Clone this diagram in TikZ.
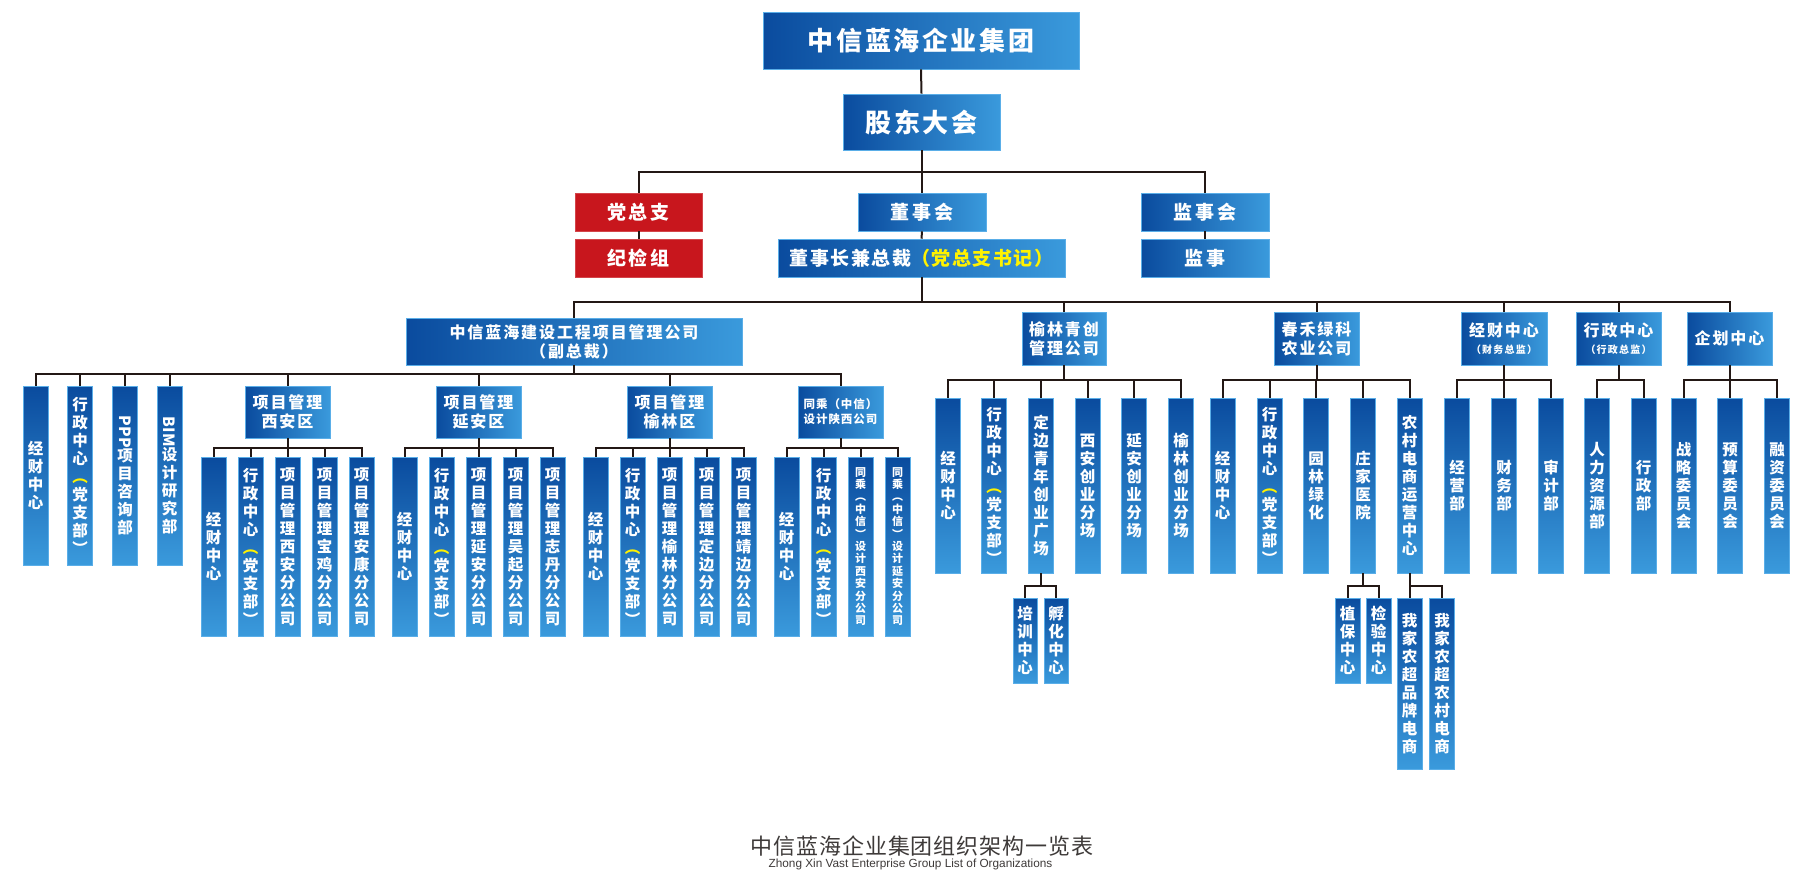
\documentclass[tikz,border=0pt]{standalone}
\usepackage{fontspec}
\usepackage{graphicx}
\setmainfont{Noto Sans CJK SC}
\newfontfamily\engfont{Liberation Sans}

\definecolor{dkblue}{HTML}{0A4B9E}
\definecolor{ltblue}{HTML}{3A9ADC}
\definecolor{edgeblue}{HTML}{5AAEE8}
\definecolor{dkred}{HTML}{C8161D}
\definecolor{hiyellow}{HTML}{FFF200}
\definecolor{linegray}{HTML}{231815}
\definecolor{titlegray}{HTML}{3E3A39}

% one character per line for the tall columns
\makeatletter
\newcommand\stack[1]{\edef\stack@tmp{#1}\expandafter\stack@a\stack@tmp\stack@end}
\def\stack@a#1{#1\@ifnextchar\stack@end{\@gobble}{\\\stack@a}}
\let\stack@end\relax
\makeatother
\newcommand\partycol{\stack{行政中心}\\\color{hiyellow}\stack{︵党支部︶}}
\newcommand\bigfont{\fontsize{26}{28}\selectfont\bfseries\addfontfeatures{LetterSpace=10}}
\newcommand\midfont{\fontsize{19}{22}\selectfont\bfseries\addfontfeatures{LetterSpace=14}}
\newcommand\subfont{\fontsize{16}{19}\selectfont\bfseries\addfontfeatures{LetterSpace=12}}
\newcommand\colfont{\fontsize{15.5}{18}\selectfont\bfseries}

\begin{document}
\begin{tikzpicture}[
    x=1pt, y=-1pt,
    conn/.style={draw=linegray, line width=2pt},
    hbox/.style 2 args={
        rectangle,
        left color=dkblue,
        right color=ltblue,
        draw=edgeblue,
        line width=0.6pt,
        text=white,
        align=center,
        inner sep=0pt,
        minimum width=#1,
        minimum height=#2
    },
    redbox/.style={
        rectangle,
        fill=dkred,
        draw=dkred!80!white,
        line width=0.6pt,
        text=white,
        font=\midfont,
        inner sep=0pt,
        minimum width=127pt,
        minimum height=38pt
    },
    vbox/.style={
        rectangle,
        top color=dkblue,
        bottom color=ltblue,
        draw=edgeblue,
        line width=0.6pt,
        text=white,
        align=center,
        inner sep=0pt,
        font=\colfont,
        minimum width=25pt,
        minimum height=#1
    },
    small/.style={font=\fontsize{11}{12.4}\selectfont\bfseries}
]
\useasboundingbox (0,0) rectangle (1816,878);

% Nodes — top of the chart
\node[hbox={316pt}{57pt}, font=\bigfont] (group) at (921,40.5) {中信蓝海企业集团};
\node[hbox={157pt}{56pt}, font=\bigfont] (shareholders) at (921.5,122) {股东大会};
\node[redbox] (party)      at (638.5,212) {党总支};
\node[redbox] (discipline) at (638.5,258) {纪检组};
\node[hbox={128pt}{38pt}, font=\midfont] (board) at (922,212) {董事会};
\node[hbox={287pt}{38pt}, font=\fontsize{19}{22}\selectfont\bfseries\addfontfeatures{LetterSpace=8}] (chairman) at (921.5,258) {董事长兼总裁{\color{hiyellow}（党总支书记）}};
\node[hbox={128pt}{38pt}, font=\midfont] (supervisors) at (1205,212) {监事会};
\node[hbox={128pt}{38pt}, font=\midfont] (supervisor)  at (1205,258) {监事};

% Companies and centres under the chairman
\node[hbox={336pt}{47pt}, font=\subfont] (construct) at (574,341.5) {中信蓝海建设工程项目管理公司\\（副总裁）};
\node[hbox={84pt}{53pt}, font=\subfont] (youth)  at (1064,338.5) {榆林青创\\管理公司};
\node[hbox={85pt}{53pt}, font=\subfont] (chunhe) at (1316.5,338.5) {春禾绿科\\农业公司};
\node[hbox={86pt}{53pt}, font=\fontsize{16}{17}\selectfont\bfseries\addfontfeatures{LetterSpace=12}] (finance) at (1504,338.5) {经财中心\\{\fontsize{10}{12}\selectfont（财务总监）}};
\node[hbox={85pt}{53pt}, font=\fontsize{16}{17}\selectfont\bfseries\addfontfeatures{LetterSpace=12}] (admin) at (1618.5,338.5) {行政中心\\{\fontsize{10}{12}\selectfont（行政总监）}};
\node[hbox={85pt}{53pt}, font=\subfont] (planning) at (1729.5,338.5) {企划中心};

% Construction company
\node[vbox=179pt] (a1) at (35.5,475.5) {\stack{经财中心}};
\node[vbox=179pt] (a2) at (80,475.5)   {\partycol};
\node[vbox=179pt] (a3) at (125,475.5)  {\rotatebox{-90}{PPP}\\\stack{项目咨询部}};
\node[vbox=179pt] (a4) at (169.5,475.5) {\rotatebox{-90}{BIM}\\\stack{设计研究部}};
\foreach \nm/\cx/\ca/\cb/\cc in {xian/287.5/西安/宝鸡/安康, yanan/478.5/延安/吴起/志丹, yulin/669.5/榆林/定边/靖边} {
    \node[hbox={85pt}{52pt}, font=\subfont] (\nm) at (\cx,412) {项目管理\\\ca 区};
    \node[vbox=179pt] (\nm1) at (\cx-74,546.5) {\stack{经财中心}};
    \node[vbox=179pt] (\nm2) at (\cx-37,546.5) {\partycol};
    \node[vbox=179pt] (\nm3) at (\cx,546.5)    {\stack{项目管理\ca 分公司}};
    \node[vbox=179pt] (\nm4) at (\cx+37,546.5) {\stack{项目管理\cb 分公司}};
    \node[vbox=179pt] (\nm5) at (\cx+74,546.5) {\stack{项目管理\cc 分公司}};
}
\node[hbox={85pt}{52pt}, font=\fontsize{11.5}{15}\selectfont\bfseries\addfontfeatures{LetterSpace=8}] (tongcheng) at (840.5,412) {同乘（中信）\\设计陕西公司};
\node[vbox=179pt] (tongcheng1) at (786.5,546.5) {\stack{经财中心}};
\node[vbox=179pt] (tongcheng2) at (823.5,546.5) {\partycol};
\node[vbox=179pt, small] (tongcheng3) at (860.5,546.5) {\stack{同乘︵中信︶设计西安分公司}};
\node[vbox=179pt, small] (tongcheng4) at (897.5,546.5) {\stack{同乘︵中信︶设计延安分公司}};

% Youth and farming companies
\foreach \nm/\cx/\txt in {b1/948/\stack{经财中心}, b2/994/\partycol, b3/1041/\stack{定边青年创业广场}, b4/1087.5/\stack{西安创业分场}, b5/1134/\stack{延安创业分场}, b6/1181/\stack{榆林创业分场},
    c1/1222.5/\stack{经财中心}, c2/1269.5/\partycol, c3/1316/\stack{园林绿化}, c4/1363/\stack{庄家医院}, c5/1409.5/\stack{农村电商运营中心}}
    \node[vbox=175pt] (\nm) at (\cx,485.5) {\txt};
\node[vbox=85pt, minimum width=24pt] (b31) at (1025,640.5)   {\stack{培训中心}};
\node[vbox=85pt, minimum width=24pt] (b32) at (1056,640.5)   {\stack{孵化中心}};
\node[vbox=85pt] (c41) at (1347.5,640.5) {\stack{植保中心}};
\node[vbox=85pt] (c42) at (1378.5,640.5) {\stack{检验中心}};
\node[vbox=171pt] (c51) at (1409.5,683.5) {\stack{我家农超品牌电商}};
\node[vbox=171pt] (c52) at (1442,683.5)   {\stack{我家农超农村电商}};

% Head office centres
\foreach \nm/\cx/\txt in {d1/1457/经营部, d2/1504/财务部, d3/1551/审计部, e1/1597/人力资源部, e2/1643.5/行政部,
    f1/1683.5/战略委员会, f2/1730/预算委员会, f3/1777/融资委员会}
    \node[vbox=175pt] (\nm) at (\cx,485.5) {\stack{\txt}};

% Connectors
\draw[conn] (group.south) -- (shareholders.north);
\foreach \c in {party,board,supervisors}
    \draw[conn] (shareholders.south) -- ++(0,22) -| (\c.north);
\draw[conn] (party.south) -- (discipline.north);
\draw[conn] (board.south) -- (chairman.north);
\draw[conn] (supervisors.south) -- (supervisor.north);
\foreach \c in {construct,youth,chunhe,finance,admin,planning}
    \draw[conn] (chairman.south) -- ++(0,25) -| (\c.north);
\foreach \c in {a1,a2,a3,a4,xian,yanan,yulin,tongcheng}
    \draw[conn] (construct.south) -- ++(0,9) -| (\c.north);
\foreach \p in {xian,yanan,yulin}
    \foreach \i in {1,...,5}
        \draw[conn] (\p.south) -- ++(0,10) -| (\p\i.north);
\foreach \i in {1,...,4}
    \draw[conn] (tongcheng.south) -- ++(0,10) -| (tongcheng\i.north);
\foreach \i in {1,...,6}
    \draw[conn] (youth.south) -- ++(0,15) -| (b\i.north);
\foreach \i in {1,...,5}
    \draw[conn] (chunhe.south) -- ++(0,15) -| (c\i.north);
\foreach \c in {d1,d2,d3}
    \draw[conn] (finance.south) -- ++(0,15) -| (\c.north);
\foreach \c in {e1,e2}
    \draw[conn] (admin.south) -- ++(0,15) -| (\c.north);
\foreach \c in {f1,f2,f3}
    \draw[conn] (planning.south) -- ++(0,15) -| (\c.north);
\foreach \c in {b31,b32}
    \draw[conn] (b3.south) -- ++(0,13) -| (\c.north);
\foreach \c in {c41,c42}
    \draw[conn] (c4.south) -- ++(0,13) -| (\c.north);
\foreach \c in {c51,c52}
    \draw[conn] (c5.south) -- ++(0,13) -| (\c.north);

% Title
\node[text=titlegray, font=\fontsize{22}{24}\selectfont\addfontfeatures{LetterSpace=4}] (title) at (922,846) {中信蓝海企业集团组织架构一览表};
\node[text=titlegray, font=\engfont\fontsize{11.8}{13}\selectfont] (subtitle) at (910.5,864) {Zhong Xin Vast Enterprise Group List of Organizations};

\end{tikzpicture}
\end{document}
